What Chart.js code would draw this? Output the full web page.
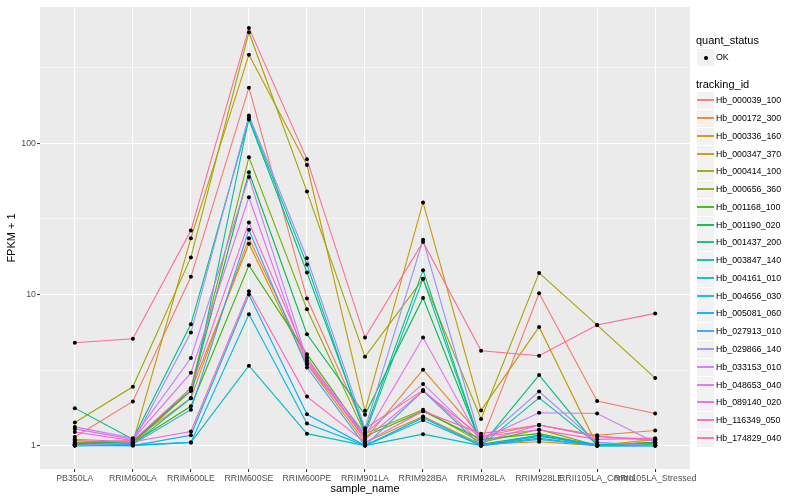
<!DOCTYPE html>
<html>
<head>
<meta charset="utf-8">
<script src="https://cdn.jsdelivr.net/npm/chart.js@4.4.0/dist/chart.umd.min.js"></script>
<style>
  html, body { margin: 0; padding: 0; background: #fff; }
  #wrap { position: relative; width: 800px; height: 500px; font-family: "Liberation Sans", Arial, sans-serif; }
  #chart { position: absolute; left: 0; top: 0; }
  .lg-title { position: absolute; left: 696px; font-size: 11px; line-height: 13px; color: #000; white-space: nowrap; }
  .lg-key { position: absolute; left: 697px; width: 17px; height: 17px; background: #F2F2F2; }
  .lg-line { position: absolute; left: 0; right: 0; top: 7px; height: 2px; opacity: 0.9; }
  .lg-dot { position: absolute; left: 6.5px; top: 6.5px; width: 4px; height: 4px; border-radius: 50%; background: #000; }
  .lg-text { position: absolute; left: 716px; font-size: 8.8px; line-height: 17px; color: #000; white-space: nowrap; }
</style>
</head>
<body>
<div id="wrap">
  <canvas id="chart" width="800" height="500"></canvas>
  <div id="legend"></div>
</div>
<script>
// categories (x axis)
const categories = ["PB350LA", "RRIM600LA", "RRIM600LE", "RRIM600SE", "RRIM600PE", "RRIM901LA",
  "RRIM928BA", "RRIM928LA", "RRIM928LE", "RRII105LA_Control", "RRII105LA_Stressed"];

const trackingIds = ["Hb_000039_100", "Hb_000172_300", "Hb_000336_160", "Hb_000347_370", "Hb_000414_100",
  "Hb_000656_360", "Hb_001168_100", "Hb_001190_020", "Hb_001437_200", "Hb_003847_140",
  "Hb_004161_010", "Hb_004656_030", "Hb_005081_060", "Hb_027913_010", "Hb_029866_140",
  "Hb_033153_010", "Hb_048653_040", "Hb_089140_020", "Hb_116349_050", "Hb_174829_040"];

// FPKM + 1, one array per gene
const hb_000039_100 = [1.14, 1.96, 13.1, 234, 9.4, 1.3, 2.33, 1.05, 10.2, 1.97, 1.63];
const hb_000172_300 = [1.05, 1.08, 2.06, 23.6, 3.64, 1.1, 3.18, 1.15, 1.37, 1.17, 1.26];
const hb_000336_160 = [1.08, 1.03, 2.31, 21.7, 3.46, 1.05, 1.56, 1.02, 1.06, 1.0, 1.1];
const hb_000347_370 = [1.05, 1.05, 23.6, 387, 72, 1.7, 40.7, 1.71, 6.1, 1.0, 1.05];
const hb_000414_100 = [1.42, 2.45, 17.6, 545, 48, 3.87, 12.7, 1.5, 13.9, 6.28, 2.8];
const hb_000656_360 = [1.02, 1.05, 2.4, 81, 8.0, 1.2, 1.73, 1.05, 1.28, 1.0, 1.05];
const hb_001168_100 = [1.01, 1.04, 1.82, 15.6, 4.03, 1.15, 1.69, 1.1, 1.2, 1.0, 1.02];
const hb_001190_020 = [1.03, 1.06, 2.31, 64.5, 5.46, 1.6, 9.5, 1.02, 1.17, 1.0, 1.05];
const hb_001437_200 = [1.77, 1.1, 6.35, 144, 14.0, 1.25, 14.5, 1.0, 2.93, 1.0, 1.0];
const hb_003847_140 = [1.02, 1.02, 2.06, 148, 15.8, 1.2, 12.7, 1.0, 2.07, 1.02, 1.0];
const hb_004161_010 = [1.01, 1.0, 1.05, 3.38, 1.2, 1.0, 1.19, 1.0, 1.15, 1.02, 1.03];
const hb_004656_030 = [1.0, 1.01, 1.05, 7.4, 1.4, 1.0, 1.47, 1.0, 1.12, 1.0, 1.0];
const hb_005081_060 = [1.0, 1.0, 1.17, 10.0, 1.61, 1.0, 1.53, 1.0, 1.17, 1.0, 1.0];
const hb_027913_010 = [1.0, 1.02, 1.73, 26.8, 3.29, 1.0, 2.3, 1.0, 1.1, 1.0, 1.0];
const hb_029866_140 = [1.0, 1.05, 5.6, 153, 17.4, 1.3, 23, 1.05, 2.28, 1.05, 1.0];
const hb_033153_010 = [1.33, 1.12, 3.8, 60, 3.7, 1.2, 2.56, 1.1, 1.65, 1.63, 1.05];
const hb_048653_040 = [1.29, 1.1, 3.03, 44, 3.5, 1.15, 5.19, 1.05, 1.37, 1.15, 1.1];
const hb_089140_020 = [1.23, 1.08, 2.4, 30, 3.83, 1.1, 2.3, 1.15, 1.27, 1.1, 1.12];
const hb_116349_050 = [1.1, 1.06, 1.24, 10.5, 2.11, 1.05, 1.69, 1.2, 1.37, 1.15, 1.08];
const hb_174829_040 = [4.8, 5.1, 26.5, 582, 78.5, 5.19, 22.3, 4.24, 3.93, 6.28, 7.5];

const seriesValues = [hb_000039_100, hb_000172_300, hb_000336_160, hb_000347_370, hb_000414_100,
  hb_000656_360, hb_001168_100, hb_001190_020, hb_001437_200, hb_003847_140,
  hb_004161_010, hb_004656_030, hb_005081_060, hb_027913_010, hb_029866_140,
  hb_033153_010, hb_048653_040, hb_089140_020, hb_116349_050, hb_174829_040];

const yMajorTicks = [1, 10, 100];
const yMinorTicks = [Math.sqrt(10), Math.sqrt(1000), Math.sqrt(100000)];

// ggplot hue palette, 20 levels
const colors = ["#F8766D", "#EA8331", "#D89000", "#C09B00", "#A3A500", "#7CAE00", "#39B600", "#00BB4E",
  "#00BF7D", "#00C1A3", "#00BFC4", "#00BAE0", "#00B0F6", "#35A2FF", "#9590FF", "#C77CFF",
  "#E76BF3", "#FA62DB", "#FF62BC", "#FF6C91"];

// y range like ggplot: 5% expansion on log scale
const allVals = seriesValues.flat();
const lo = Math.log10(Math.min(...allVals)), hi = Math.log10(Math.max(...allVals));
const yMin = Math.pow(10, lo - 0.05 * (hi - lo));
const yMax = Math.pow(10, hi + 0.05 * (hi - lo));

const datasets = seriesValues.map((vals, i) => ({
  label: trackingIds[i],
  data: vals.map((v, j) => ({ x: j + 1, y: v })),
  borderColor: colors[i],
  borderWidth: 1.1,
  pointRadius: 0,
  fill: false,
  tension: 0,
  order: 20 - i
}));
datasets.push({
  label: "OK",
  data: seriesValues.flatMap(vals => vals.map((v, j) => ({ x: j + 1, y: v }))),
  showLine: false,
  pointRadius: 2,
  pointBackgroundColor: "#000",
  pointBorderWidth: 0,
  order: 0
});

const isMajor = v => yMajorTicks.some(m => Math.abs(m - v) < 1e-6);

const panelBg = {
  id: "panelBg",
  beforeDraw(chart) {
    const { ctx, chartArea: a } = chart;
    ctx.save();
    ctx.fillStyle = "#EBEBEB";
    ctx.fillRect(a.left, a.top, a.right - a.left, a.bottom - a.top);
    ctx.restore();
  }
};

Chart.defaults.font.family = '"Liberation Sans", Arial, sans-serif';

new Chart(document.getElementById("chart"), {
  type: "line",
  data: { datasets },
  options: {
    responsive: false,
    animation: false,
    layout: { padding: { top: 7, right: 110, left: 0, bottom: 0 } },
    plugins: { legend: { display: false }, tooltip: { enabled: false } },
    scales: {
      x: {
        type: "linear",
        min: 0.4,
        max: 11.6,
        afterBuildTicks: s => { s.ticks = categories.map((c, i) => ({ value: i + 1 })); },
        afterFit: s => { s.height = 31; },
        ticks: {
          callback: v => categories[Math.round(v) - 1],
          maxRotation: 0, minRotation: 0, autoSkip: false,
          color: "#4D4D4D", font: { size: 8.8 }, padding: 1
        },
        grid: { color: "#fff", lineWidth: 1.1, tickColor: "#333", tickLength: 3, tickWidth: 1 },
        border: { display: false },
        title: { display: true, text: "sample_name", color: "#000", font: { size: 11 }, padding: { top: 0, bottom: 4 } }
      },
      y: {
        type: "logarithmic",
        min: yMin,
        max: yMax,
        afterBuildTicks: s => {
          s.ticks = [...yMajorTicks, ...yMinorTicks].sort((a, b) => a - b).map(v => ({ value: v }));
        },
        afterFit: s => { s.width = 40; },
        ticks: {
          callback: v => isMajor(v) ? String(Math.round(v)) : "",
          autoSkip: false, color: "#4D4D4D", font: { size: 8.8 }, padding: 1
        },
        grid: {
          color: "#fff",
          lineWidth: ctx => (ctx.tick && isMajor(ctx.tick.value)) ? 1.1 : 0.55,
          tickColor: ctx => (ctx.tick && isMajor(ctx.tick.value)) ? "#333" : "rgba(0,0,0,0)",
          tickLength: 3,
          tickWidth: 1
        },
        border: { display: false },
        title: { display: true, text: "FPKM + 1", color: "#000", font: { size: 11 }, padding: { top: 5, bottom: 0 } }
      }
    }
  },
  plugins: [panelBg]
});

// legend in ggplot style
const lg = document.getElementById("legend");
let html = '<div class="lg-title" style="top:34px">quant_status</div>';
html += '<div class="lg-key" style="top:49px"><div class="lg-dot"></div></div>';
html += '<div class="lg-text" style="top:49px">OK</div>';
html += '<div class="lg-title" style="top:78px">tracking_id</div>';
trackingIds.forEach((id, i) => {
  const top = Math.round(92.2 + i * 17.77);
  html += '<div class="lg-key" style="top:' + top + 'px"><div class="lg-line" style="background:' + colors[i] + '"></div></div>';
  html += '<div class="lg-text" style="top:' + top + 'px">' + id + '</div>';
});
lg.innerHTML = html;
</script>
</body>
</html>
